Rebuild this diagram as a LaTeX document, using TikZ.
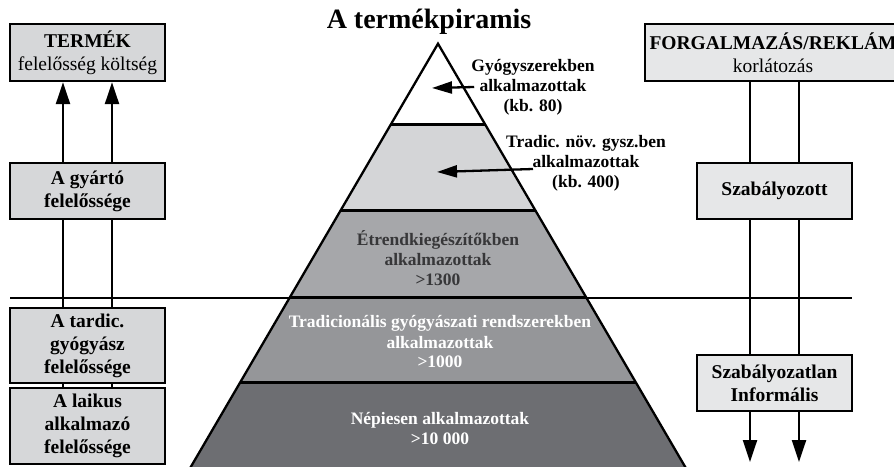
\documentclass[tikz,border=0pt]{standalone}
\usepackage{fontspec}
\setmainfont{Liberation Serif}
\usepackage{tikz}
\usetikzlibrary{arrows.meta, calc}
\definecolor{boxgray}{RGB}{214, 215, 217}
\definecolor{boxlight}{RGB}{230, 231, 232}
\definecolor{bandA}{RGB}{212, 213, 215}
\definecolor{bandB}{RGB}{166, 167, 170}
\definecolor{bandC}{RGB}{149, 150, 153}
\definecolor{bandD}{RGB}{109, 110, 114}
\definecolor{darktext}{RGB}{55, 55, 57}

\tikzset{
  leftbox/.style={draw, line width=2.4pt, fill=boxgray, minimum width=155pt,
    inner sep=0pt, align=center, font=\bfseries\fontsize{19.5}{23}\selectfont},
  rightbox/.style={leftbox, fill=boxlight},
  link/.style={line width=2.3pt},
  uparrow/.style={link, -{Triangle[length=22pt, width=14pt]}},
  ptr/.style={line width=2.3pt, -{Triangle[length=20pt, width=12pt]}},
  plabel/.style={align=center, inner sep=1pt, font=\bfseries\fontsize{17.5}{20}\selectfont}
}

\begin{document}
\begin{tikzpicture}[x=1pt, y=-1pt]

  \useasboundingbox (0, 0) rectangle (894, 466);

  % columns of the connectors
  \coordinate (la) at (63, 0);
  \coordinate (lb) at (112, 0);
  \coordinate (ra) at (750, 0);
  \coordinate (rb) at (799, 0);
  \coordinate (bot) at (0, 462);

  \node[font=\bfseries\fontsize{28}{30}\selectfont] (title) at (429, 22) {A termékpiramis};

  % left column
  \node[leftbox, minimum height=57pt] (termek) at (87.5, 52.5) {TERMÉK\\\textmd{felelősség költség}};
  \node[leftbox, minimum height=56pt] (gyarto) at (87.5, 191) {A gyártó\\felelőssége};
  \node[leftbox, minimum height=75pt] (tardic) at (87.5, 345.5) {A tardic.\\gyógyász\\felelőssége};
  \node[leftbox, minimum height=76pt] (laikus) at (87.5, 426) {A laikus\\alkalmazó\\felelőssége};

  % right column
  \node[rightbox, minimum width=256pt, minimum height=57pt] (forg) at (773, 52.5) {FORGALMAZÁS/REKLÁM\\\textmd{korlátozás}};
  \node[rightbox, minimum height=56pt] (szab) at (774.5, 191) {Szabályozott};
  \node[rightbox, minimum height=56pt] (szabtl) at (774.5, 383) {Szabályozatlan\\Informális};

  \foreach \c in {la, lb} {
    \draw[uparrow] (gyarto.north -| \c) -- (termek.south -| \c);
    \draw[link] (gyarto.south -| \c) -- (tardic.north -| \c);
    \draw[link] (tardic.south -| \c) -- (laikus.north -| \c);
  }
  \foreach \c in {ra, rb} {
    \draw[link] (forg.south -| \c) -- (szab.north -| \c);
    \draw[link] (szab.south -| \c) -- (szabtl.north -| \c);
    \draw[uparrow] (szabtl.south -| \c) -- (bot -| \c);
  }

  \draw[line width=1.4pt] (10, 298) -- (852, 298);

  % the pyramid
  \coordinate (apex) at (438, 43.7);
  \coordinate (bl) at (189, 470);
  \coordinate (br) at (687, 470);

  \foreach \ta/\tb/\col in {0/0.1907/white, 0.1907/0.3924/bandA, 0.3924/0.5942/bandB,
                            0.5942/0.7936/bandC, 0.7936/1/bandD} {
    \fill[\col] ($(apex)!\ta!(bl)$) -- ($(apex)!\tb!(bl)$) -- ($(apex)!\tb!(br)$) -- ($(apex)!\ta!(br)$) -- cycle;
  }
  \foreach \t in {0.1907, 0.3924, 0.5942, 0.7936} {
    \draw[line width=3pt] ($(apex)!\t!(bl)$) -- ($(apex)!\t!(br)$);
  }
  \draw[line width=2.3pt, line join=miter] (bl) -- (apex) -- (br);

  \node[plabel] (lab1) at (533, 87) {Gyógyszerekben\\alkalmazottak\\(kb. 80)};
  \node[plabel] (lab2) at (586, 163) {Tradic. növ. gysz.ben\\alkalmazottak\\(kb. 400)};
  \node[plabel, text=darktext] (lab3) at (438, 258) {Étrendkiegészítőkben\\alkalmazottak\\>1300};
  \node[plabel, text=white] (lab4) at (440, 342) {Tradicionális gyógyászati rendszerekben\\alkalmazottak\\>1000};
  \node[plabel, text=white] (lab5) at (440, 428) {Népiesen alkalmazottak\\>10 000};

  \coordinate (tip1) at (432, 88);
  \coordinate (tip2) at (437, 172);
  \draw[ptr] ([xshift=4pt]lab1.west) -- (tip1);
  \draw[ptr] ($(lab2.center) + (-53, 6)$) -- (tip2);

\end{tikzpicture}
\end{document}
